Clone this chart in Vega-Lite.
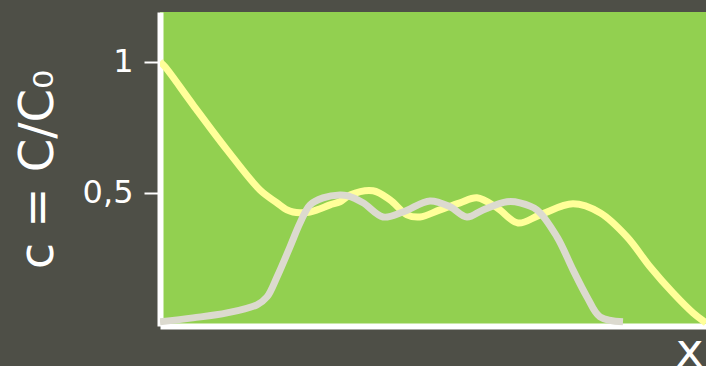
{
  "$schema": "https://vega.github.io/schema/vega-lite/v6.json",
  "width": 546,
  "height": 314,
  "autosize": {"type": "none"},
  "padding": {"left": 160, "top": 12, "right": 0, "bottom": 40},
  "background": "#4e4f47",
  "config": {"view": {"fill": "#92d050", "stroke": null}, "font": "DejaVu Sans"},
  "data": {
    "values": [
      {"series": "c1", "x": 0, "c": 1.0},
      {"series": "c1", "x": 5, "c": 0.981},
      {"series": "c1", "x": 33, "c": 0.836},
      {"series": "c1", "x": 67, "c": 0.664},
      {"series": "c1", "x": 100, "c": 0.511},
      {"series": "c1", "x": 117, "c": 0.462},
      {"series": "c1", "x": 127, "c": 0.435},
      {"series": "c1", "x": 133, "c": 0.427},
      {"series": "c1", "x": 140, "c": 0.424},
      {"series": "c1", "x": 150, "c": 0.427},
      {"series": "c1", "x": 157, "c": 0.435},
      {"series": "c1", "x": 170, "c": 0.454},
      {"series": "c1", "x": 180, "c": 0.466},
      {"series": "c1", "x": 190, "c": 0.492},
      {"series": "c1", "x": 213, "c": 0.508},
      {"series": "c1", "x": 230, "c": 0.473},
      {"series": "c1", "x": 247, "c": 0.416},
      {"series": "c1", "x": 260, "c": 0.408},
      {"series": "c1", "x": 280, "c": 0.435},
      {"series": "c1", "x": 300, "c": 0.462},
      {"series": "c1", "x": 317, "c": 0.481},
      {"series": "c1", "x": 337, "c": 0.443},
      {"series": "c1", "x": 358, "c": 0.385},
      {"series": "c1", "x": 380, "c": 0.416},
      {"series": "c1", "x": 413, "c": 0.458},
      {"series": "c1", "x": 440, "c": 0.424},
      {"series": "c1", "x": 467, "c": 0.332},
      {"series": "c1", "x": 490, "c": 0.218},
      {"series": "c1", "x": 513, "c": 0.118},
      {"series": "c1", "x": 533, "c": 0.042},
      {"series": "c1", "x": 546, "c": 0.004},
      {"series": "c2", "x": 0, "c": 0.008},
      {"series": "c2", "x": 33, "c": 0.023},
      {"series": "c2", "x": 67, "c": 0.042},
      {"series": "c2", "x": 97, "c": 0.073},
      {"series": "c2", "x": 107, "c": 0.103},
      {"series": "c2", "x": 117, "c": 0.179},
      {"series": "c2", "x": 130, "c": 0.294},
      {"series": "c2", "x": 140, "c": 0.385},
      {"series": "c2", "x": 150, "c": 0.454},
      {"series": "c2", "x": 163, "c": 0.481},
      {"series": "c2", "x": 180, "c": 0.492},
      {"series": "c2", "x": 187, "c": 0.489},
      {"series": "c2", "x": 203, "c": 0.462},
      {"series": "c2", "x": 223, "c": 0.408},
      {"series": "c2", "x": 243, "c": 0.427},
      {"series": "c2", "x": 270, "c": 0.469},
      {"series": "c2", "x": 290, "c": 0.447},
      {"series": "c2", "x": 307, "c": 0.408},
      {"series": "c2", "x": 323, "c": 0.435},
      {"series": "c2", "x": 347, "c": 0.466},
      {"series": "c2", "x": 360, "c": 0.462},
      {"series": "c2", "x": 377, "c": 0.435},
      {"series": "c2", "x": 397, "c": 0.332},
      {"series": "c2", "x": 413, "c": 0.206},
      {"series": "c2", "x": 427, "c": 0.103},
      {"series": "c2", "x": 440, "c": 0.027},
      {"series": "c2", "x": 463, "c": 0.008}
    ]
  },
  "mark": {"type": "line", "interpolate": "catmull-rom", "strokeWidth": 7, "clip": true},
  "encoding": {
    "x": {
      "field": "x",
      "type": "quantitative",
      "scale": {"domain": [0, 546], "nice": false, "zero": false},
      "axis": {
        "title": "x",
        "labels": false,
        "ticks": false,
        "grid": false,
        "domainColor": "white",
        "domainWidth": 6,
        "titleColor": "white",
        "titleFontSize": 47,
        "titleFontWeight": "normal",
        "titleX": 543,
        "titleY": 39,
        "titleAlign": "right",
        "titleBaseline": "alphabetic"
      }
    },
    "y": {
      "field": "c",
      "type": "quantitative",
      "scale": {"domain": [-0.008, 1.19], "nice": false, "zero": false},
      "axis": {
        "values": [0.5, 1],
        "labelExpr": "datum.value == 1 ? '1' : '0,5'",
        "grid": false,
        "domainColor": "white",
        "domainWidth": 6,
        "tickColor": "white",
        "tickWidth": 2,
        "tickSize": 16,
        "labelColor": "white",
        "labelFontSize": 32,
        "labelPadding": 11,
        "title": "c = C/C₀",
        "titleColor": "white",
        "titleFontSize": 48,
        "titleFontWeight": "normal",
        "titleAngle": -90,
        "titleX": -108,
        "titleY": 157,
        "titleAlign": "center",
        "titleBaseline": "alphabetic"
      }
    },
    "color": {
      "field": "series",
      "type": "nominal",
      "scale": {"domain": ["c1", "c2"], "range": ["#ffff99", "#dcdacf"]},
      "legend": null
    }
  }
}
